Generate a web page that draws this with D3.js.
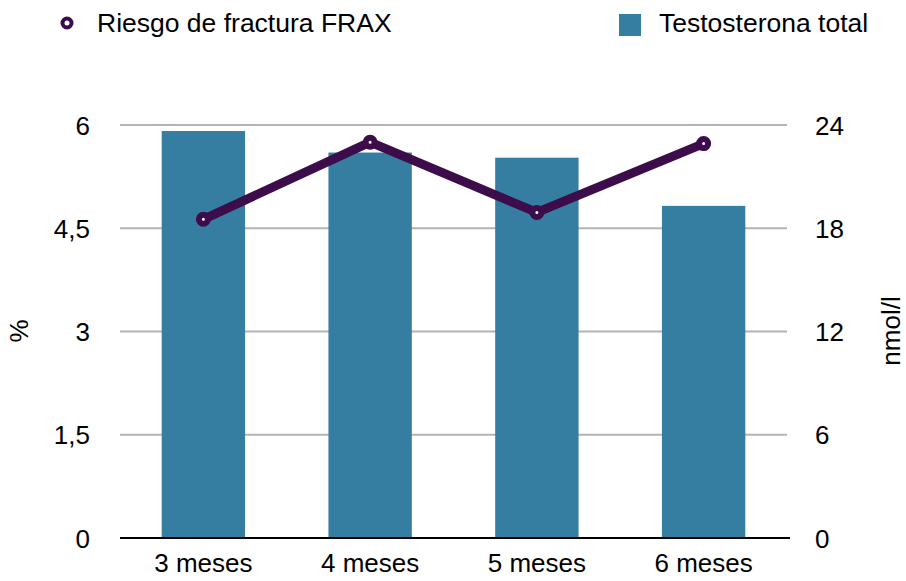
<!DOCTYPE html>
<html>
<head>
<meta charset="utf-8">
<script src="https://cdn.jsdelivr.net/npm/d3@7"></script>
<style>
  body { margin: 0; background: #fff; }
  text { font-family: "Liberation Sans", Arial, sans-serif; fill: #000; }
</style>
</head>
<body>
<div id="chart"></div>
<script>
const categories = ["3 meses", "4 meses", "5 meses", "6 meses"]
const testosterona = [23.65, 22.4, 22.1, 19.3]
const frax = [4.63, 5.75, 4.73, 5.73]
const leftTicks = [0, 1.5, 3, 4.5, 6]
const rightTicks = [0, 6, 12, 18, 24]

const fs = "26px"
const margin = { top: 125, left: 120, right: 119, bottom: 43 },
      width = 906 - margin.left - margin.right,
      height = 581 - margin.top - margin.bottom;

const svg = d3.select("#chart")
    .append("svg")
    .attr("width", 906)
    .attr("height", 581)

const plot = svg.append("g")
    .attr("transform", "translate(" + margin.left + "," + margin.top + ")")

const x = d3.scaleBand()
    .domain(categories)
    .range([0, width])
    .paddingInner(0.5)
    .paddingOuter(0.25)

const yL = d3.scaleLinear().domain([0, 6]).range([height, 0])
const yR = d3.scaleLinear().domain([0, 24]).range([height, 0])

// grid
plot.append("g")
    .selectAll("line")
    .data(leftTicks.slice(1))
    .enter().append("line")
    .attr("x1", 0).attr("x2", width)
    .attr("y1", d => yL(d)).attr("y2", d => yL(d))
    .attr("stroke", "#b4b4b4")
    .attr("stroke-width", 2)

// left axis
plot.append("g")
    .attr("transform", "translate(-27,0)")
    .call(d3.axisLeft(yL).tickValues(leftTicks).tickSize(0).tickFormat(d => String(d).replace(".", ",")))
    .call(g => g.select(".domain").remove())
    .selectAll("text")
    .style("font-size", fs)
    .attr("dy", "0.35em")

// right axis
plot.append("g")
    .attr("transform", "translate(" + (width + 25) + ",0)")
    .call(d3.axisRight(yR).tickValues(rightTicks).tickSize(0))
    .call(g => g.select(".domain").remove())
    .selectAll("text")
    .style("font-size", fs)
    .attr("dy", "0.35em")

// bars
plot.selectAll(".bar")
    .data(testosterona)
    .enter().append("rect")
    .attr("class", "bar")
    .attr("x", (d, i) => x(categories[i]))
    .attr("width", x.bandwidth())
    .attr("y", d => yR(d))
    .attr("height", d => height - yR(d))
    .attr("fill", "#367ea1")

// baseline + x axis
plot.append("line")
    .attr("x1", 0).attr("x2", width + 3)
    .attr("y1", height).attr("y2", height)
    .attr("stroke", "#000").attr("stroke-width", 2)

plot.append("g")
    .attr("transform", "translate(0," + height + ")")
    .call(d3.axisBottom(x).tickSize(0).tickPadding(16))
    .call(g => g.select(".domain").remove())
    .selectAll("text")
    .style("font-size", fs)

// line
const cx = (d, i) => x(categories[i]) + x.bandwidth() / 2
plot.append("path")
    .datum(frax)
    .attr("fill", "none")
    .attr("stroke", "#3d0c4a")
    .attr("stroke-width", 9)
    .attr("stroke-linejoin", "round")
    .attr("d", d3.line().x(cx).y(d => yL(d)))

plot.selectAll(".dot")
    .data(frax)
    .enter().append("circle")
    .attr("cx", cx).attr("cy", d => yL(d))
    .attr("r", 4.5)
    .attr("fill", "#fff")
    .attr("stroke", "#3d0c4a")
    .attr("stroke-width", 6)

// axis titles
svg.append("text")
    .attr("transform", "translate(28,331) rotate(-90)")
    .attr("text-anchor", "middle")
    .style("font-size", fs)
    .text("%")

svg.append("text")
    .attr("transform", "translate(900,331) rotate(-90)")
    .attr("text-anchor", "middle")
    .style("font-size", fs)
    .text("nmol/l")

// legend
svg.append("circle")
    .attr("cx", 67).attr("cy", 23).attr("r", 4.5)
    .attr("fill", "#fff").attr("stroke", "#3d0c4a").attr("stroke-width", 4)
svg.append("text")
    .attr("x", 97).attr("y", 32)
    .style("font-size", "26.5px")
    .text("Riesgo de fractura FRAX")

svg.append("rect")
    .attr("x", 619).attr("y", 14).attr("width", 22).attr("height", 22)
    .attr("fill", "#367ea1")
svg.append("text")
    .attr("x", 659).attr("y", 32)
    .style("font-size", "26.5px")
    .text("Testosterona total")
</script>
</body>
</html>
